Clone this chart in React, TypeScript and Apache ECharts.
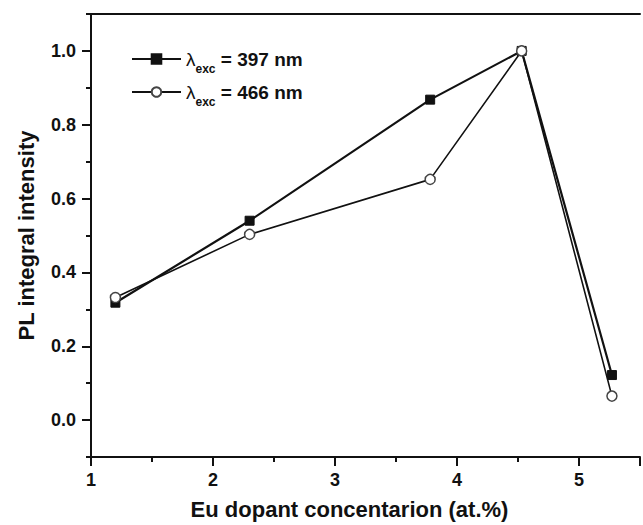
import React, { useEffect, useRef } from "react";
import * as echarts from "echarts";

const concentration = [1.2, 2.3, 3.78, 4.53, 5.27];
const intensity397 = [0.318, 0.54, 0.868, 1.0, 0.122];
const intensity466 = [0.332, 0.503, 0.652, 1.0, 0.065];
const yTickValues = [0, 0.2, 0.4, 0.6, 0.8, 1.0];
const seriesNames = ["λexc = 397 nm", "λexc = 466 nm"];
const legendWavelengths = ["397", "466"];
const xTitle = "Eu dopant concentarion (at.%)";
const yTitle = "PL integral intensity";

const FONT = "'Liberation Sans', Arial, sans-serif";
const INK = "#111";

export default function App() {
  const ref = useRef<HTMLDivElement>(null);
  useEffect(() => {
    document.body.style.margin = "0";
    const chart = echarts.init(ref.current!, undefined, { renderer: "svg" });
    const pairs = (ys: number[]) => concentration.map((x, i) => [x, ys[i]]);
    chart.setOption({
      animation: false,
      backgroundColor: "#fff",
      textStyle: { fontFamily: FONT },
      grid: { left: 91, top: 14, bottom: 65, right: -3, containLabel: false },
      legend: {
        orient: "vertical",
        left: 126,
        top: 38,
        itemWidth: 49,
        itemHeight: 12,
        itemGap: 1,
        data: seriesNames,
        formatter: (name: string) => {
          const idx = seriesNames.indexOf(name);
          return `{l|λ}{s|exc}{t| = ${legendWavelengths[idx]} nm}`;
        },
        textStyle: {
          color: INK,
          rich: {
            l: { fontSize: 19, fontFamily: FONT, color: INK, lineHeight: 32, verticalAlign: "middle" },
            s: { fontSize: 12, fontWeight: "bold", fontFamily: FONT, color: INK, lineHeight: 10, padding: [20, 0, 0, 0], verticalAlign: "middle" },
            t: { fontSize: 19, fontWeight: "bold", fontFamily: FONT, color: INK, lineHeight: 32, verticalAlign: "middle" },
          },
        },
      },
      xAxis: [
        {
          type: "value",
          position: "bottom",
          min: 1,
          max: 5.5,
          interval: 1,
          splitLine: { show: false },
          axisLine: { show: true, onZero: false, lineStyle: { color: INK, width: 2 } },
          axisTick: { show: true, inside: false, length: 9, lineStyle: { color: INK, width: 2 } },
          minorTick: { show: true, splitNumber: 2, length: 5, lineStyle: { color: INK, width: 2 } },
          axisLabel: {
            margin: 14,
            fontSize: 18,
            fontWeight: "bold",
            fontFamily: FONT,
            color: INK,
            formatter: (v: number) => (v <= 5 ? String(v) : ""),
          },
          name: xTitle,
          nameLocation: "middle",
          nameGap: 41,
          nameTextStyle: { fontSize: 22, fontWeight: "bold", fontFamily: FONT, color: INK, padding: [0, 32, 0, 0] },
        },
        {
          type: "value",
          position: "top",
          min: 1,
          max: 5.5,
          splitLine: { show: false },
          axisLine: { show: true, onZero: false, lineStyle: { color: INK, width: 2 } },
          axisTick: { show: false },
          axisLabel: { show: false },
        },
      ],
      yAxis: [
        {
          type: "value",
          position: "left",
          min: -0.1,
          max: 1.1,
          splitLine: { show: false },
          axisLine: { show: true, onZero: false, lineStyle: { color: INK, width: 2 } },
          axisTick: { show: true, inside: false, length: 9, customValues: yTickValues, lineStyle: { color: INK, width: 2 } },
          axisLabel: {
            customValues: yTickValues,
            margin: 15,
            fontSize: 18,
            fontWeight: "bold",
            fontFamily: FONT,
            color: INK,
            formatter: (v: number) => v.toFixed(1),
          },
          name: yTitle,
          nameLocation: "middle",
          nameGap: 54,
          nameTextStyle: { fontSize: 22, fontWeight: "bold", fontFamily: FONT, color: INK },
        },
        {
          type: "value",
          position: "left",
          min: -0.1,
          max: 1.1,
          interval: 0.2,
          splitLine: { show: false },
          axisLine: { show: false },
          axisTick: { show: true, inside: false, length: 5, lineStyle: { color: INK, width: 2 } },
          axisLabel: { show: false },
        },
      ],
      series: [
        {
          name: seriesNames[0],
          type: "line",
          data: pairs(intensity397),
          symbol: "rect",
          symbolSize: 9,
          z: 2,
          lineStyle: { color: INK, width: 2.2 },
          itemStyle: { color: INK, borderColor: INK, borderWidth: 1 },
        },
        {
          name: seriesNames[1],
          type: "line",
          data: pairs(intensity466),
          symbol: "circle",
          symbolSize: 10,
          z: 3,
          lineStyle: { color: INK, width: 1.6 },
          itemStyle: { color: "#fff", borderColor: "#444", borderWidth: 1.5 },
        },
      ],
    });
    return () => chart.dispose();
  }, []);
  return <div ref={ref} style={{ width: 643, height: 525 }} />;
}
